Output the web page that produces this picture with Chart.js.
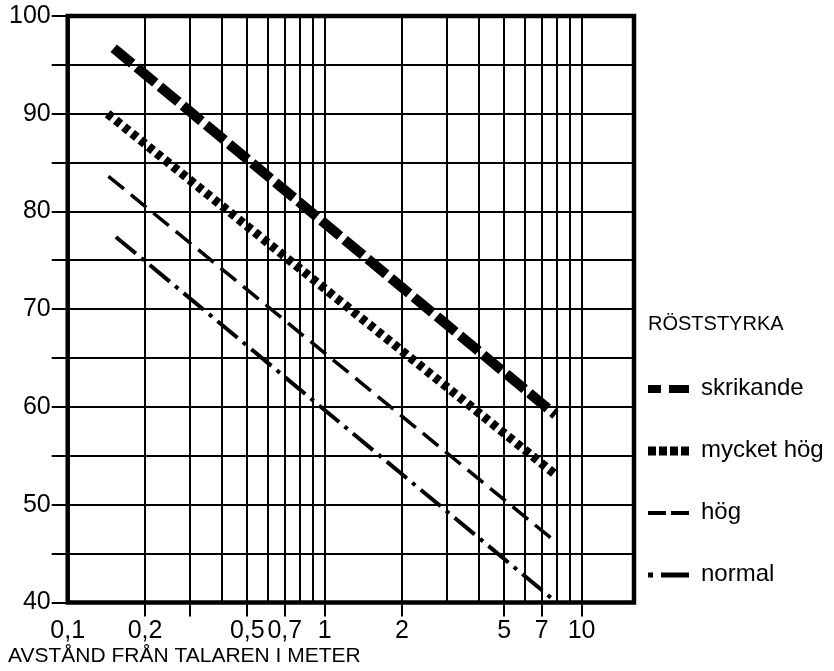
<!DOCTYPE html>
<html>
<head>
<meta charset="utf-8">
<script src="https://cdn.jsdelivr.net/npm/chart.js@4.4.1/dist/chart.umd.min.js"></script>
<style>
html, body { margin: 0; padding: 0; background: #fff; }
#wrap { width: 834px; height: 671px; }
</style>
</head>
<body>
<div id="wrap"><canvas id="chart"></canvas></div>
<script>
// distance in meters (log axis) and speech level
const xGrid = [0.1, 0.2, 0.3, 0.4, 0.5, 0.6, 0.7, 0.8, 0.9, 1, 2, 3, 4, 5, 6, 7, 8, 9, 10];
const xLabels = [0.1, 0.2, 0.5, 0.7, 1, 2, 5, 7, 10];
const xTickMarks = [0.2, 0.3, 0.5, 0.7, 1, 2, 5, 7, 10];
const yLabels = [40, 50, 60, 70, 80, 90, 100];

const seriesNames = ["skrikande", "mycket hög", "hög", "normal"];
const skrikandeDist = [0.151, 7.92];
const skrikandeLevel = [96.7, 59.2];
const mycketHogDist = [0.143, 7.99];
const mycketHogLevel = [90.0, 53.0];
const hogDist = [0.144, 7.85];
const hogLevel = [83.6, 46.3];
const normalDist = [0.154, 7.92];
const normalLevel = [77.4, 40.1];

const probe = document.createElement("canvas").getContext("2d");
const measure = f => { probe.font = f; return probe.measureText("AVSTÅND FRÅN TALAREN I METER").width; };
const narrow = measure('24px "Liberation Sans Narrow", monospace') !== measure("24px monospace");
const NARROW = narrow ? '"Liberation Sans Narrow"' : '"Liberation Sans"';
const axisTitleSize = narrow ? 26 : 21;
const legendTitleSize = narrow ? 24 : 20;

const pts = (xs, ys) => xs.map((x, i) => ({ x, y: ys[i] }));

const lineStyles = [
	{ width: 10, dash: [24, 6] },
	{ width: 9, dash: [6, 4.5] },
	{ width: 3.5, dash: [20, 9] },
	{ width: 4, dash: [26, 7, 4, 7] }
];
const legendStyles = [
	{ width: 8, dash: [13, 8, 20, 100] },
	{ width: 9, dash: [8, 3] },
	{ width: 4, dash: [18, 5, 18, 100] },
	{ width: 5, dash: [5, 8, 28, 100] }
];

const seriesData = [
	pts(skrikandeDist, skrikandeLevel),
	pts(mycketHogDist, mycketHogLevel),
	pts(hogDist, hogLevel),
	pts(normalDist, normalLevel)
];

const frame = {
	id: "frame",
	beforeDatasetsDraw(chart) {
		const { ctx, chartArea: a } = chart;
		ctx.save();
		ctx.strokeStyle = "#000";
		ctx.lineWidth = 4.5;
		ctx.strokeRect(a.left, a.top, a.right - a.left, a.bottom - a.top);
		ctx.restore();
	}
};

// legend on the right side, drawn by hand
const roststyrka = {
	id: "roststyrka",
	afterDraw(chart) {
		const { ctx, chartArea: a } = chart;
		const x0 = a.right + 14;
		ctx.save();
		ctx.fillStyle = "#000";
		ctx.strokeStyle = "#000";
		ctx.textBaseline = "middle";
		ctx.textAlign = "left";
		ctx.font = `${legendTitleSize}px ${NARROW}`;
		ctx.fillText("RÖSTSTYRKA", x0, a.top + 308);
		ctx.font = '24px "Liberation Sans"';
		seriesNames.forEach((name, i) => {
			const y = a.top + 373 + i * 62;
			const st = legendStyles[i];
			ctx.lineWidth = st.width;
			ctx.lineCap = "butt";
			ctx.setLineDash(st.dash);
			ctx.beginPath();
			ctx.moveTo(x0, y);
			ctx.lineTo(x0 + 41, y);
			ctx.stroke();
			ctx.setLineDash([]);
			ctx.fillText(name, x0 + 53, y - 1);
		});
		ctx.restore();
	}
};

new Chart(document.getElementById("chart"), {
	type: "line",
	data: {
		datasets: seriesNames.map((name, i) => ({
			label: name,
			data: seriesData[i],
			borderColor: "#000",
			borderWidth: lineStyles[i].width,
			borderDash: lineStyles[i].dash,
			borderCapStyle: "butt",
			pointRadius: 0,
			fill: false,
			tension: 0
		}))
	},
	options: {
		responsive: true,
		maintainAspectRatio: false,
		animation: false,
		devicePixelRatio: 1,
		layout: { padding: { left: 8, right: 200, top: 8, bottom: 0 } },
		plugins: {
			legend: { display: false },
			tooltip: { enabled: false },
			title: {
				display: true,
				position: "bottom",
				align: "start",
				text: "AVSTÅND FRÅN TALAREN I METER",
				color: "#000",
				font: { family: NARROW.replace(/"/g, ""), size: axisTitleSize, weight: "normal", lineHeight: 1.0 },
				padding: { top: 0, bottom: 4 }
			}
		},
		scales: {
			x: {
				type: "logarithmic",
				min: 0.1,
				max: 16,
				afterBuildTicks: scale => { scale.ticks = xGrid.map(value => ({ value })); },
				border: { display: false },
				grid: {
					color: "#000",
					lineWidth: 2,
					tickLength: 14,
					tickWidth: 2,
					tickColor: ctx => xTickMarks.includes(ctx.tick.value) ? "#000" : "rgba(0,0,0,0)"
				},
				ticks: {
					autoSkip: false,
					maxRotation: 0,
					padding: 1,
					color: "#000",
					font: { family: "Liberation Sans", size: 25, lineHeight: 1.1 },
					callback: v => xLabels.includes(v) ? String(v).replace(".", ",") : ""
				}
			},
			y: {
				type: "linear",
				min: 40,
				max: 100,
				border: { display: false },
				grid: { color: "#000", lineWidth: 2, tickLength: 16, tickWidth: 2, tickColor: "#000" },
				ticks: {
					stepSize: 5,
					padding: 1,
					color: "#000",
					font: { family: "Liberation Sans", size: 25 },
					callback: v => yLabels.includes(v) ? String(v) : ""
				}
			}
		}
	},
	plugins: [frame, roststyrka]
});
</script>
</body>
</html>
